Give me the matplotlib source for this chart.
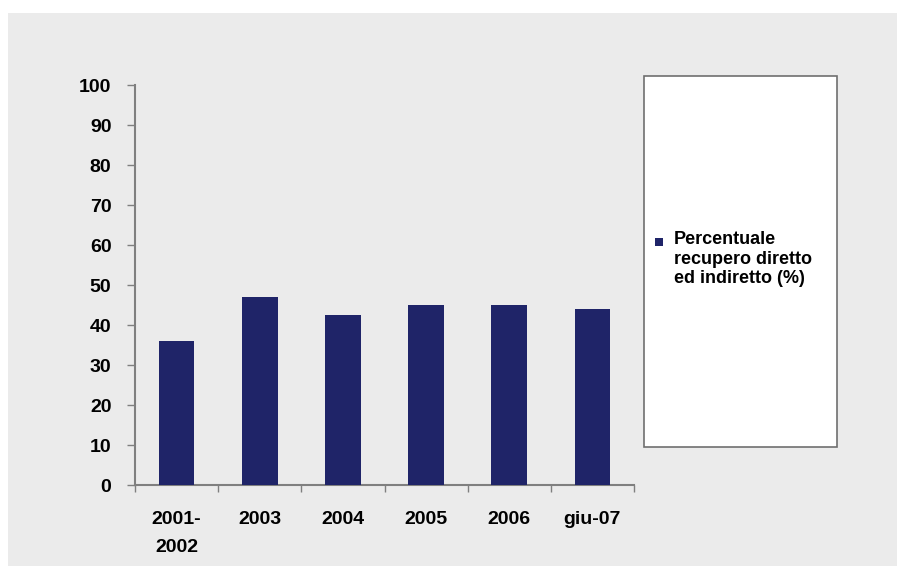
import numpy as np
import matplotlib.pyplot as plt
from matplotlib.patches import Rectangle

# Data
categories = ['2001-\n2002', '2003', '2004', '2005', '2006', 'giu-07']
values = [36, 47, 42.5, 45, 45, 44]
series_name = 'Percentuale\nrecupero diretto\ned indiretto (%)'

bar_color = '#1f2468'
bg_color = '#ebebeb'
axis_color = '#7f7f7f'

plt.rcParams['font.family'] = ['Liberation Sans', 'DejaVu Sans']
plt.rcParams['font.weight'] = 'bold'

W, H = 897, 566
fig = plt.figure(figsize=(W / 100, H / 100), dpi=100)
fig.patch.set_facecolor('white')

# grey slide background, white strip at top/left
fig.patches.append(Rectangle((8 / W, 0), 1 - 8 / W, 1 - 13 / H,
                             transform=fig.transFigure, facecolor=bg_color,
                             edgecolor='none', zorder=-1))

ax = fig.add_axes([135 / W, 1 - 485 / H, (634 - 135) / W, (485 - 85) / H])
ax.set_facecolor('none')

x = np.arange(len(categories))
ax.bar(x, values, width=0.43, color=bar_color, zorder=3)

ax.set_xlim(-0.5, len(categories) - 0.5)
ax.set_ylim(0, 100)
ax.set_yticks(np.arange(0, 101, 10))

ax.set_xticks(x)
ax.set_xticklabels(categories, fontsize=14, fontweight='bold', linespacing=1.8)
ax.tick_params(axis='x', which='major', length=0, pad=19)
ax.set_xticks(np.arange(-0.5, len(categories), 1), minor=True)
ax.tick_params(axis='x', which='minor', length=5, color=axis_color, width=1)
ax.tick_params(axis='y', length=6, color=axis_color, width=1, pad=11, labelsize=14)
for lbl in ax.get_yticklabels():
    lbl.set_fontweight('bold')

for side in ['top', 'right']:
    ax.spines[side].set_visible(False)
for side in ['left', 'bottom']:
    ax.spines[side].set_color(axis_color)
    ax.spines[side].set_linewidth(1.5)

# legend box
fig.patches.append(Rectangle((644 / W, 1 - 447 / H), (837 - 644) / W, (447 - 76) / H,
                             transform=fig.transFigure, facecolor='white',
                             edgecolor='#6f6f6f', linewidth=1.2, zorder=1))
fig.patches.append(Rectangle((655 / W, 1 - 246 / H), 8 / W, 8 / H,
                             transform=fig.transFigure, facecolor=bar_color,
                             edgecolor='none', zorder=2))
fig.text(674 / W, 1 - 231 / H, series_name, fontsize=13, fontweight='bold',
         va='top', ha='left', linespacing=1.2, zorder=3)

fig.savefig('out.png', dpi=100)
